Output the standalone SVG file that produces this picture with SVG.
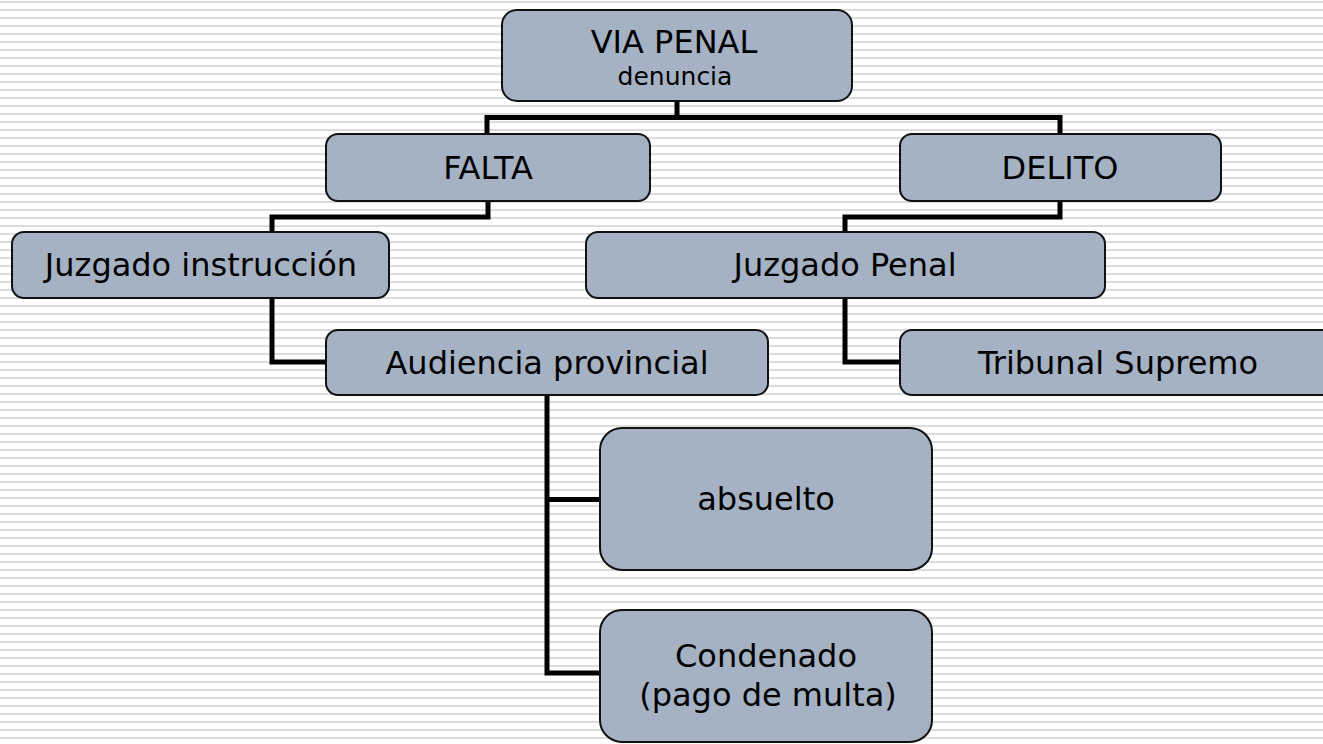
<svg xmlns="http://www.w3.org/2000/svg" width="1323" height="744" viewBox="0 0 1323 744">
<defs>
<pattern id="stripes" x="0" y="0" width="8" height="8" patternUnits="userSpaceOnUse">
<rect x="0" y="0" width="8" height="8" fill="#ffffff"/>
<rect x="0" y="1" width="8" height="2" fill="#dcdcdc"/>
</pattern>
<style>
.box{fill:#a5b2c4;stroke:#111111;stroke-width:2}
.t{font-family:"DejaVu Sans","Verdana",sans-serif;font-size:32px;fill:#000000;text-anchor:middle}
.s{font-size:25px}
.conn{fill:none;stroke:#000000;stroke-width:5;stroke-linejoin:miter}
</style>
</defs>
<rect x="0" y="0" width="1323" height="744" fill="url(#stripes)"/>
<g id="connectors">
<path class="conn" d="M677,101 V117.5 M487,134 V117.5 H1060 V134"/>
<path class="conn" d="M488,201 V217 H272 V232 M1060,201 V217 H845 V232"/>
<path class="conn" d="M272,298 V362 H326 M845,298 V362 H900"/>
<path class="conn" d="M547,395 V673 H600 M547,499.5 H600"/>
</g>
<g id="via-penal">
<rect class="box" x="502" y="10" width="350" height="91" rx="15"/>
<text class="t" x="674" y="53">VIA PENAL</text>
<text class="t s" x="675" y="85">denuncia</text>
</g>
<g id="falta">
<rect class="box" x="326" y="134" width="324" height="67" rx="12"/>
<text class="t" x="488" y="179">FALTA</text>
</g>
<g id="delito">
<rect class="box" x="900" y="134" width="321" height="67" rx="12"/>
<text class="t" x="1060" y="179">DELITO</text>
</g>
<g id="juzgado-instruccion">
<rect class="box" x="12" y="232" width="377" height="66" rx="12"/>
<text class="t" x="201" y="276">Juzgado instrucción</text>
</g>
<g id="juzgado-penal">
<rect class="box" x="586" y="232" width="519" height="66" rx="12"/>
<text class="t" x="845" y="276">Juzgado Penal</text>
</g>
<g id="audiencia-provincial">
<rect class="box" x="326" y="330" width="442" height="65" rx="12"/>
<text class="t" x="547" y="374">Audiencia provincial</text>
</g>
<g id="tribunal-supremo">
<rect class="box" x="900" y="330" width="449" height="65" rx="12"/>
<text class="t" x="1118" y="374">Tribunal Supremo</text>
</g>
<g id="absuelto">
<rect class="box" x="600" y="428" width="332" height="142" rx="22"/>
<text class="t" x="766" y="510">absuelto</text>
</g>
<g id="condenado">
<rect class="box" x="600" y="610" width="332" height="132" rx="22"/>
<text class="t" x="766" y="667">Condenado</text>
<text class="t" x="768" y="706">(pago de multa)</text>
</g>
</svg>
